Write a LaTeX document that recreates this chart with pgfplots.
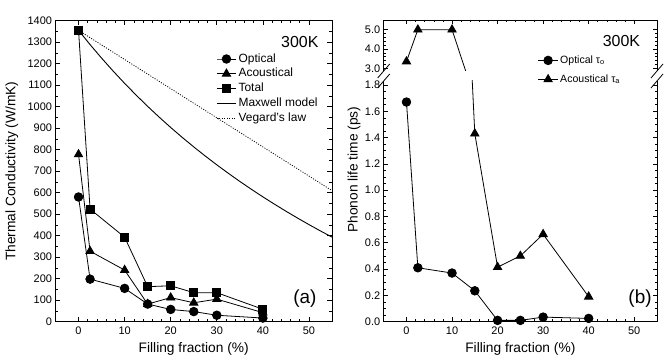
\documentclass[border=0pt]{standalone}
\usepackage{fontspec}
\setmainfont{Liberation Sans}
\usepackage{pgfplots}
\pgfplotsset{compat=1.18}

\pgfplotsset{
  panel/.style={
    scale only axis,
    xmin=-5, xmax=55,
    xtick={0,10,...,50},
    minor x tick num=4,
    tick align=inside,
    major tick length=4.5bp,
    minor tick length=2.5bp,
    every tick/.style={black, line width=0.6bp},
    axis line style={black, line width=0.8bp, -},
    tick label style={font=\fontsize{11}{13}\selectfont},
    label style={font=\fontsize{13.8}{16}\selectfont},
    /pgf/number format/assume math mode=true,
    /pgf/number format/1000 sep={},
    xticklabel style={yshift=-2bp},
    legend cell align=left,
    legend image code/.code={%
      \draw[mark repeat=2,mark phase=2] plot coordinates {(0bp,0bp) (9.7bp,0bp) (19.4bp,0bp)};},
  },
  dat/.style={black, line width=0.8bp, mark size=4.2bp, mark options={solid, fill=black}},
}

\begin{document}
\begin{tikzpicture}
\path (0,0) rectangle (664bp,360bp);

% ---------- (a) thermal conductivity ----------
\begin{axis}[panel,
  at={(55.5bp,38.3bp)}, anchor=south west,
  width=276.5bp, height=301bp,
  ymin=0, ymax=1400, ytick={0,100,...,1400}, minor y tick num=1,
  xlabel={Filling fraction (\%)},
  ylabel={Thermal Conductivity (W/mK)},
  xlabel style={at={(axis description cs:0.5,-0.09)}, anchor=center},
  ylabel style={at={(axis description cs:-0.158,0.5)}, anchor=center},
  legend style={draw=none, fill=none, at={(axis description cs:0.5816,0.896)},
    anchor=north west, inner sep=0pt, outer sep=0pt,
    font=\fontsize{12}{14}\selectfont, row sep=0.8bp,
    nodes={inner ysep=1.5bp, inner xsep=2bp, text height=8.5bp, text depth=2.5bp}},
]
\addplot[dat, mark=*, mark size=4.3bp] coordinates {
  (0,580) (2.5,198) (10,155) (15,82) (20,57) (25,47) (30,30) (40,17)};
\addlegendentry{Optical}
\addplot[dat, mark=triangle*, mark size=4.8bp] coordinates {
  (0,778) (2.5,328) (10,240) (15,82) (20,112) (25,88) (30,105) (40,42)};
\addlegendentry{Acoustical}
\addplot[dat, mark=square*, mark size=4bp] coordinates {
  (0,1355) (2.5,524) (10,393) (15,163) (20,167) (25,135) (30,135) (40,58)};
\addlegendentry{Total}
\addplot[black, line width=0.9bp] coordinates {
  (0,1355) (2.5,1288.9) (5,1226.0) (7.5,1165.9) (10,1108.6) (12.5,1053.9)
  (15,1001.5) (17.5,951.4) (20,903.3) (22.5,857.2) (25,813.0) (27.5,770.5)
  (30,729.6) (32.5,690.3) (35,652.4) (37.5,615.9) (40,580.7) (42.5,546.8)
  (45,514.0) (47.5,482.3) (50,451.7) (52.5,422.1) (55,393.4)};
\addlegendentry{Maxwell model}
\addplot[black, line width=0.8bp, dash pattern=on 1bp off 1.5bp] coordinates {
  (0,1355) (55,609.75)};
\addlegendentry{Vegard's law}
\node[anchor=east, font=\fontsize{16}{18}\selectfont] at (axis description cs:0.9638,0.930) {300K};
\node[font=\fontsize{19}{21}\selectfont] at (axis description cs:0.902,0.0754) {(a)};
\end{axis}

% ---------- (b) phonon life time, lower part ----------
\begin{axis}[panel,
  at={(383.7bp,38.3bp)}, anchor=south west,
  width=273.3bp, height=240.7bp,
  ymin=0, ymax=1.83, ytick={0,0.2,...,1.8}, minor y tick num=3,
  yticklabel style={/pgf/number format/.cd, fixed, fixed zerofill, precision=1},
  axis x line*=bottom,
  xlabel={Filling fraction (\%)},
  ylabel={Phonon life time (ps)},
  xlabel style={at={(axis description cs:0.5,-0.113)}, anchor=center},
  ylabel style={at={(axis description cs:-0.108,0.632)}, anchor=center},
  legend style={draw=none, fill=none, at={(axis description cs:0.5646,1.125)},
    anchor=north west, inner sep=0pt, outer sep=0pt,
    font=\fontsize{10.6}{12}\selectfont, row sep=0pt,
    nodes={inner ysep=4.25bp, inner xsep=2bp, text height=8bp, text depth=2.5bp}},
]
\addplot[dat, mark=*, mark size=4.3bp] coordinates {
  (0,1.67) (2.5,0.41) (10,0.37) (15,0.235) (20,0.01) (25,0.01) (30,0.035) (40,0.025)};
\addlegendentry{Optical τ\textsubscript{o}}
\addplot[dat, mark=triangle*, mark size=4.8bp] coordinates {
  (0,3.35) (2.5,5.0) (10,5.0) (15,1.43) (20,0.415) (25,0.50) (30,0.665) (40,0.19)};
\addlegendentry{Acoustical τ\textsubscript{a}}
\node[font=\fontsize{19}{21}\selectfont] at (axis description cs:0.938,0.094) {(b)};
\end{axis}

% ---------- (b) phonon life time, upper part ----------
\begin{axis}[panel,
  at={(383.7bp,289bp)}, anchor=south west,
  width=273.3bp, height=51bp,
  ymin=2.86, ymax=5.5, ytick={3,4,5}, minor y tick num=4,
  yticklabel style={/pgf/number format/.cd, fixed, fixed zerofill, precision=1},
  axis x line*=top, xticklabels={},
]
\addplot[dat, mark=triangle*, mark size=4.8bp] coordinates {
  (0,3.35) (2.5,5.0) (10,5.0) (15,1.43) (20,0.415) (25,0.50) (30,0.665) (40,0.19)};
\node[anchor=east, font=\fontsize{16}{18}\selectfont] at (axis description cs:0.951,0.583) {300K};
\end{axis}

% axis break marks
\foreach \xb in {383.7,657} {
  \draw[black, line width=0.8bp] (\xb bp-6bp,289bp-7bp) -- (\xb bp+6bp,289bp+7bp);
  \draw[black, line width=0.8bp] (\xb bp-6bp,279bp-7bp) -- (\xb bp+6bp,279bp+7bp);
}
\end{tikzpicture}
\end{document}
